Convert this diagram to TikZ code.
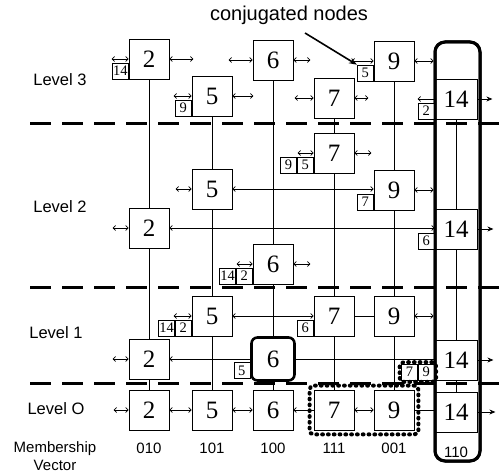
\documentclass[tikz,border=0pt]{standalone}
\usepackage{fontspec}
\setmainfont{Liberation Serif}
\setsansfont{Liberation Sans}
\usetikzlibrary{arrows.meta,fit}
\begin{document}
\begin{tikzpicture}[x=1pt,y=-1pt,
  >={Straight Barb[length=2.5pt,width=5pt]},
  big/.style={draw,line width=0.8pt,minimum size=40pt,inner sep=0pt,fill=white,font=\fontsize{25}{25}\selectfont},
  bigw/.style={big,minimum width=42pt},
  hot/.style={big,line width=2.6pt,rounded corners=6pt,minimum size=43pt},
  sm/.style={draw,line width=0.7pt,minimum size=16pt,inner sep=0pt,fill=white,anchor=south east,font=\fontsize{14.5}{14.5}\selectfont},
  lbl/.style={font=\sffamily\fontsize{16.5}{18}\selectfont},
  mv/.style={font=\sffamily\fontsize{15}{18}\selectfont},
  link/.style={line width=0.7pt},
  dbl/.style={link,<->},
  outa/.style={link,-{Stealth[length=6pt,width=5pt]}},
  sep/.style={line width=3pt,dash pattern=on 21pt off 11pt},
  dotbox/.style={draw,line width=4pt,dash pattern=on 0.8pt off 5pt,line cap=round,rounded corners=4pt},
  colbox/.style={draw,line width=3pt,rounded corners=10pt,inner sep=0pt}
]
\useasboundingbox (0,0) rectangle (503,473);

% level separators
\draw[sep] (30,124) -- (503,124);
\draw[sep] (30,287) -- (503,287);
\draw[sep] (30,383) -- (503,383);

% labels
\node[font=\sffamily\fontsize{20}{22}\selectfont] (conj) at (289,15) {conjugated nodes};
\node[lbl] (l3) at (60,80) {Level 3};
\node[lbl] (l2) at (60,207) {Level 2};
\node[lbl] (l1) at (56,333) {Level 1};
\node[lbl] (l0) at (56,409) {Level O};
\node[mv,align=center] (mvl) at (55,456) {Membership\\Vector};
\node[mv] (v2) at (149,448) {010};
\node[mv] (v5) at (212,448) {101};
\node[mv] (v6) at (273,448) {100};
\node[mv] (v7) at (334,448) {111};
\node[mv] (v9) at (394,448) {001};
\node[mv] (v14) at (456,452) {110};

% level 3
\node[big] (a2) at (149,59) {2};
\node[big] (a5) at (212,96) {5};
\node[big] (a6) at (273,60) {6};
\node[big] (a7) at (334,98) {7};
\node[big] (a9) at (394,61) {9};
\node[bigw] (a14) at (456,99) {14};
% level 2
\node[big] (b7) at (334,153) {7};
\node[big] (b5) at (212,189) {5};
\node[big] (b9) at (394,190) {9};
\node[big] (b2) at (149,228) {2};
\node[bigw] (b14) at (456,229) {14};
\node[big] (b6) at (273,264) {6};
% level 1
\node[big] (c5) at (212,316) {5};
\node[big] (c7) at (334,316) {7};
\node[big] (c9) at (394,316) {9};
\node[big] (c2) at (149,359) {2};
\node[hot] (c6) at (273,359) {6};
\node[bigw] (c14) at (456,360) {14};
% level 0
\node[big] (d2) at (149,410) {2};
\node[big] (d5) at (212,410) {5};
\node[big] (d6) at (273,410) {6};
\node[big] (d7) at (334,410) {7};
\node[big] (d9) at (394,410) {9};
\node[bigw] (d14) at (456,412) {14};

% tall column frame
\node[colbox,minimum width=45pt,minimum height=419pt] (col) at (457.5,251.5) {};

% vertical links
\draw[link] (a2.south) -- (b2.north) (b2.south) -- (c2.north) (c2.south) -- (d2.north);
\draw[link] (a5.south) -- (b5.north) (b5.south) -- (c5.north) (c5.south) -- (d5.north);
\draw[link] (a6.south) -- (b6.north) (b6.south) -- (c6.north) (c6.south) -- (d6.north);
\draw[link] (a7.south) -- (b7.north) (b7.south) -- (c7.north) (c7.south) -- (d7.north);
\draw[link] (a9.south) -- (b9.north) (b9.south) -- (c9.north) (c9.south) -- (d9.north);
\draw[link] (a14.south) -- (b14.north) (b14.south) -- (c14.north) (c14.south) -- (d14.north);

% level 3 links
\draw[dbl] (a2.west) -- ++(-17,0);
\draw[dbl] (a2.east) -- ++(24,0);
\draw[dbl] (a5.west) -- ++(-18,0);
\draw[dbl] (a5.east) -- ++(21,0);
\draw[dbl] (a6.west) -- ++(-24,0);
\draw[dbl] (a6.east) -- ++(17,0);
\draw[dbl] (a7.west) -- ++(-19,0);
\draw[dbl] (a7.east) -- ++(14,0);
\draw[dbl] (a9.west) -- ++(-22,0);
\draw[dbl] (a9.east) -- (a9.east -| col.west);
\draw[link,->] (a14.west) -- ++(-17,0);
\draw[outa] (a14.east) -- ++(15,0);

% level 2 links
\draw[dbl] (b7.west) -- ++(-16,0);
\draw[dbl] (b7.east) -- ++(17,0);
\draw[dbl] (b5.west) -- ++(-16,0);
\draw[dbl] (b5.east) -- (b5.east -| b9.west);
\draw[dbl] (b9.east) -- (b9.east -| col.west);
\draw[dbl] (b2.west) -- ++(-16,0);
\draw[dbl] (b2.east) -- (b2.east -| b14.west);
\draw[outa] (b14.east) -- ++(16,0);
\draw[dbl] (b6.west) -- ++(-16,0);
\draw[dbl] (b6.east) -- ++(17,0);

% level 1 links
\draw[dbl] (c5.west) -- ++(-18,0);
\draw[dbl] (c5.east) -- (c7.west);
\draw[link] (c7.east) -- (c9.west);
\draw[dbl] (c9.east) -- (c9.east -| col.west);
\draw[dbl] (c2.west) -- ++(-16,0);
\draw[link,<-] (c2.east) -- (c6.west);
\draw[link] (c6.east) -- (c6.east -| c14.west);
\draw[outa] (c14.east) -- ++(16,0);

% level 0 links
\draw[dbl] (d2.west) -- ++(-15,0);
\draw[dbl] (d2.east) -- (d5.west);
\draw[dbl] (d5.east) -- (d6.west);
\draw[link,<-] (d6.east) -- (d7.west);
\draw[dbl] (d7.east) -- (d9.west);
\draw[link] (d9.east) -- (d9.east -| d14.west);
\draw[outa] (d14.east) -- ++(18,0);

% conjugated (small) nodes
\node[sm] (sa14) at (a2.south west) {14};
\node[sm] (sa9) at (a5.south west) {9};
\node[sm] (sa5) at (a9.south west) {5};
\node[sm] (sa2) at (a14.south west) {2};
\node[sm] (sb5) at (b7.south west) {5};
\node[sm] (sb9) at (sb5.south west) {9};
\node[sm] (sb7) at (b9.south west) {7};
\node[sm] (sb6) at (b14.south west) {6};
\node[sm] (sb2) at (b6.south west) {2};
\node[sm] (sb14) at (sb2.south west) {14};
\node[sm] (sc2) at (c5.south west) {2};
\node[sm] (sc14) at (sc2.south west) {14};
\node[sm] (sc6) at (c7.south west) {6};
\node[sm] (sc5) at ([yshift=3pt]c6.south west) {5};
\node[sm] (sc9) at (c14.south west) {9};
\node[sm] (sc7) at (sc9.south west) {7};

% dotted groupings
\node[dotbox,fit=(sc7)(sc9),inner sep=1.5pt] (g1) {};
\node[dotbox,fit=(d7)(d9),inner sep=4pt] (g0) {};

% redraw frame on top
\node[colbox,minimum width=45pt,minimum height=419pt] (col2) at (457.5,251.5) {};

% annotation arrow
\coordinate (ctail) at (305,33);
\draw[line width=1.6pt,-{Stealth[length=8pt,width=6pt]}] (ctail) -- (sa5.north west);
\end{tikzpicture}
\end{document}
